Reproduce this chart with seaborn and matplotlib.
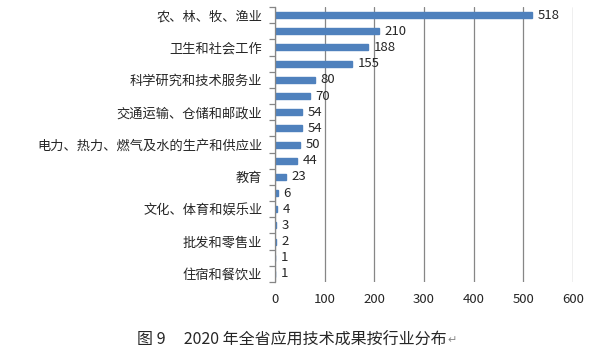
import numpy as np
import pandas as pd
import matplotlib
matplotlib.use('Agg')
import matplotlib.pyplot as plt
import seaborn as sns

# industries, top to bottom (only every other one is labelled in the chart)
industries = ['农、林、牧、渔业', '制造业', '卫生和社会工作', '信息传输、软件和信息技术服务业',
              '科学研究和技术服务业', '水利、环境和公共设施管理业', '交通运输、仓储和邮政业', '建筑业',
              '电力、热力、燃气及水的生产和供应业', '采矿业', '教育', '公共管理、社会保障和社会组织',
              '文化、体育和娱乐业', '居民服务、修理和其他服务业', '批发和零售业', '租赁和商务服务业',
              '住宿和餐饮业']
counts = [518, 210, 188, 155, 80, 70, 54, 54, 50, 44, 23, 6, 4, 3, 2, 1, 1]
x_ticks = [0, 100, 200, 300, 400, 500, 600]
caption = '图 9     2020 年全省应用技术成果按行业分布'

sns.set_style('white')
plt.rcParams['font.family'] = ['Noto Sans CJK SC', 'DejaVu Sans']

df = pd.DataFrame({'industry': industries, 'count': counts})

fig = plt.figure(figsize=(5.93, 3.58), dpi=100)
ax = fig.add_axes([0.4637, 0.2123, 0.5026, 0.768])

sns.barplot(data=df, x='count', y='industry', orient='h', color='#4F81BD',
            width=0.37, saturation=1, edgecolor='#4F81BD', linewidth=1.0, ax=ax)

ax.set_xlim(0, 600)
ax.set_ylim(len(industries) - 0.5, -0.5)
ax.set_xticks(x_ticks)
ax.set_xticklabels([str(t) for t in x_ticks], fontsize=9.5)
ax.tick_params(axis='x', length=0, pad=8)
ax.xaxis.grid(True, color='#868686', linewidth=0.9)
ax.set_axisbelow(True)

# label every other category, tick marks on the boundaries
ax.set_yticks(range(len(industries)))
ax.set_yticklabels([n if i % 2 == 0 else '' for i, n in enumerate(industries)], fontsize=9.5)
ax.tick_params(axis='y', which='major', length=0, pad=9)
ax.set_yticks(np.arange(-0.5, len(industries), 1), minor=True)
ax.tick_params(axis='y', which='minor', length=4, color='#868686', width=0.9, left=True)
ax.set_xlabel('')
ax.set_ylabel('')

for s in ['top', 'right', 'bottom']:
    ax.spines[s].set_visible(False)
ax.spines['left'].set_color('#868686')
ax.spines['left'].set_linewidth(0.9)

for i, v in enumerate(counts):
    ax.text(v + 11, i, str(v), va='center', ha='left', fontsize=9.5)

cap = fig.text(0.231, 0.05, caption, fontsize=11.5, ha='left', va='center')
fig.canvas.draw()
bb = cap.get_window_extent().transformed(fig.transFigure.inverted())
fig.text(bb.x1 + 0.002, 0.05, '↵', fontsize=8, color='#888888', ha='left', va='center',
         family=['DejaVu Sans'])

fig.savefig('out.png', dpi=100)
